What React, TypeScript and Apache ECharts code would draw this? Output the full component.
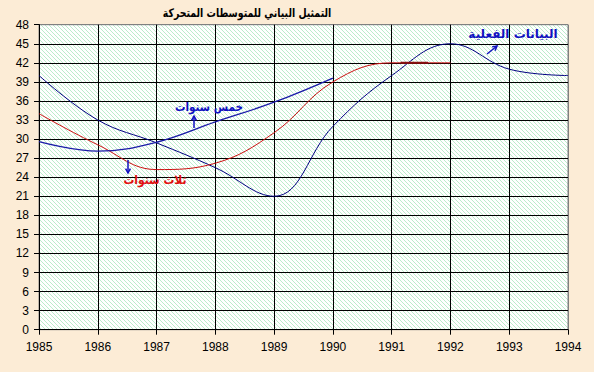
import React, { useEffect, useRef } from "react";
import * as echarts from "echarts";

const years = [1985, 1986, 1987, 1988, 1989, 1990, 1991, 1992, 1993, 1994];
const actual = [40, 33, 29.4, 25.5, 21, 32, 40, 45, 41, 40];
const threeYear = [34, 29.1, 25.2, 26.2, 31, 39, 42, 42];
const fiveYear = [29.6, 28.1, 29.5, 32.7, 35.8, 39.6];
const highlightX = [1991.15, 1991.62];
const highlightY = [42, 42];
const yTicks = [0, 3, 6, 9, 12, 15, 18, 21, 24, 27, 30, 33, 36, 39, 42, 45, 48];

const pairs = (xs: number[], ys: number[]) => ys.map((v, i) => [xs[i], v]);

function makePattern() {
  const c = document.createElement("canvas");
  c.width = 4;
  c.height = 4;
  const ctx = c.getContext("2d")!;
  ctx.fillStyle = "#ffffff";
  ctx.fillRect(0, 0, 4, 4);
  ctx.fillStyle = "#bceccb";
  for (let i = 0; i < 4; i++) {
    ctx.fillRect(i, i, 1, 1);
  }
  return c;
}

function arrow(x1: number, y1: number, x2: number, y2: number, color: string) {
  const ang = Math.atan2(y2 - y1, x2 - x1);
  const L = 5;
  const a1 = ang + Math.PI - 0.5;
  const a2 = ang + Math.PI + 0.5;
  return [
    { type: "line", shape: { x1, y1, x2, y2 }, style: { stroke: color, lineWidth: 1.5 }, z: 100 },
    {
      type: "polyline",
      shape: { points: [[x2 + L * Math.cos(a1), y2 + L * Math.sin(a1)], [x2, y2], [x2 + L * Math.cos(a2), y2 + L * Math.sin(a2)]] },
      style: { stroke: color, lineWidth: 1.5, fill: null },
      z: 100,
    },
  ];
}

const arabic = "'DejaVu Sans', 'Noto Sans', sans-serif";

function label(text: string, x: number, y: number, color: string, size: number, sx: number) {
  return {
    type: "text",
    x,
    y,
    scaleX: sx,
    style: {
      text,
      fill: color,
      font: "bold " + size + "px " + arabic,
      align: "center",
      verticalAlign: "middle",
    },
    z: 100,
  };
}

export default function App() {
  const ref = useRef<HTMLDivElement>(null);
  useEffect(() => {
    document.body.style.margin = "0";
    const chart = echarts.init(ref.current!, null, { renderer: "svg" });
    const splitColors = yTicks.map((t, i) => (i === yTicks.length - 1 ? "#808080" : "#000000"));
    const xSplitColors = years.map((t, i) => (i === years.length - 1 ? "#808080" : "#000000"));
    chart.setOption({
      animation: false,
      backgroundColor: "#fcecd6",
      grid: {
        left: 39,
        right: 26,
        top: 24.7,
        bottom: 42.3,
        show: true,
        borderColor: "#808080",
        borderWidth: 1,
        backgroundColor: { image: makePattern(), repetition: "repeat" },
      },
      xAxis: {
        type: "value",
        min: 1985,
        max: 1994,
        interval: 1,
        axisLine: { show: true, lineStyle: { color: "#000", width: 1 } },
        axisTick: { show: true, length: 5, lineStyle: { color: "#000" } },
        axisLabel: {
          formatter: (v: number) => String(v),
          color: "#000",
          fontFamily: "'Liberation Sans', Arial, sans-serif",
          fontSize: 12,
          margin: 11,
        },
        splitLine: { show: true, lineStyle: { color: xSplitColors, width: 1 } },
      },
      yAxis: {
        type: "value",
        min: 0,
        max: 48,
        interval: 3,
        axisLine: { show: true, lineStyle: { color: "#000", width: 1 } },
        axisTick: { show: true, length: 5, lineStyle: { color: "#000" } },
        axisLabel: {
          color: "#000",
          fontFamily: "'Liberation Sans', Arial, sans-serif",
          fontSize: 12,
          margin: 10,
        },
        splitLine: { show: true, lineStyle: { color: splitColors, width: 1 } },
      },
      series: [
        {
          type: "line",
          data: pairs(years, actual),
          smooth: 0.4,
          showSymbol: false,
          lineStyle: { color: "#000080", width: 1 },
          z: 3,
        },
        {
          type: "line",
          data: pairs(years, threeYear),
          smooth: 0.4,
          showSymbol: false,
          lineStyle: { color: "#cc1010", width: 1 },
          z: 3,
        },
        {
          type: "line",
          data: pairs(years, fiveYear),
          smooth: 0.4,
          showSymbol: false,
          lineStyle: { color: "#1a1aa8", width: 1.3 },
          z: 3,
        },
        {
          type: "line",
          data: pairs(highlightX, highlightY),
          showSymbol: false,
          lineStyle: { color: "#8a1010", width: 2 },
          z: 4,
        },
      ],
      graphic: [
        label("التمثيل البياني للمتوسطات المتحركة", 247, 13, "#000", 12, 0.78),
        label("خمس سنوات", 209, 107, "#1010c0", 12, 0.87),
        label("ثلاث سنوات", 155, 180, "#e01010", 12, 0.9),
        label("البيانات الفعلية", 513, 34, "#1010c0", 12, 1.0),
        ...arrow(194, 128, 194, 116, "#1010c0"),
        ...arrow(128, 160, 128, 173, "#1010c0"),
        ...arrow(487, 54, 497, 46, "#1010c0"),
      ],
    });
    return () => chart.dispose();
  }, []);
  return <div ref={ref} style={{ position: "fixed", left: 0, top: 0, width: 594, height: 372 }} />;
}
